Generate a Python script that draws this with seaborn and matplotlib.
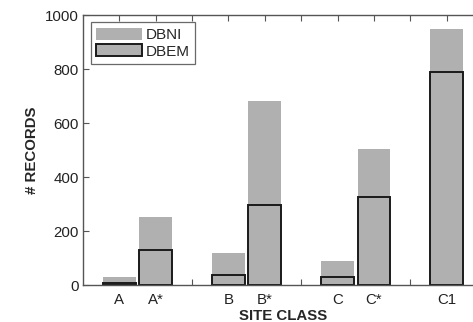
import matplotlib
matplotlib.use("Agg")
import matplotlib.pyplot as plt
import seaborn as sns
import pandas as pd

# Site classes (blank slots separate the groups)
order = ["A", "A*", " ", "B", "B*", "  ", "C", "C*", "   ", "C1"]
classes = ["A", "A*", "B", "B*", "C", "C*", "C1"]
dbni = [31, 251, 120, 681, 90, 504, 948]
dbem = [8, 130, 36, 297, 31, 325, 788]

df = pd.DataFrame({"site": classes, "DBNI": dbni, "DBEM": dbem})

sns.set_theme(style="white")
plt.rcParams["font.family"] = ["Liberation Sans", "DejaVu Sans"]

fig = plt.figure(figsize=(4.73, 3.22), dpi=100)
ax = fig.add_axes([0.1755, 0.1149, 0.8457, 0.8385])

grey = "#b0b0b0"
sns.barplot(data=df, x="site", y="DBNI", order=order, color=grey,
            width=0.9, saturation=1, linewidth=0, ax=ax, label="DBNI")
sns.barplot(data=df, x="site", y="DBEM", order=order, color=grey,
            width=0.9, saturation=1, edgecolor="#1a1a1a", linewidth=1.4,
            ax=ax, label="DBEM")

ax.set_xlim(-1, 10)
ax.set_ylim(0, 1000)
ax.set_yticks([0, 200, 400, 600, 800, 1000])
ax.set_xlabel("SITE CLASS", fontsize=10.8, fontweight="bold", labelpad=1)
ax.set_ylabel("# RECORDS", fontsize=10.8, fontweight="bold", labelpad=4)

for s in ["left", "bottom", "top"]:
    ax.spines[s].set_visible(True)
    ax.spines[s].set_color("#555555")
    ax.spines[s].set_linewidth(1.0)
ax.spines["right"].set_visible(False)

ax.tick_params(axis="both", direction="in", length=4, width=0.8,
               color="#555555", labelsize=10.8, labelcolor="#222222")
ax.tick_params(axis="x", top=True, bottom=True, pad=6)
ax.tick_params(axis="y", left=True, right=False, pad=3)

leg = ax.legend(loc="upper left", bbox_to_anchor=(0.008, 0.99), fontsize=11,
                frameon=True, fancybox=False, edgecolor="#444444",
                handlelength=3.0, handleheight=0.85, handletextpad=0.25,
                borderpad=0.35, labelspacing=0.15, borderaxespad=0.3)
leg.get_frame().set_linewidth(0.9)

fig.savefig("out.png", dpi=100)
